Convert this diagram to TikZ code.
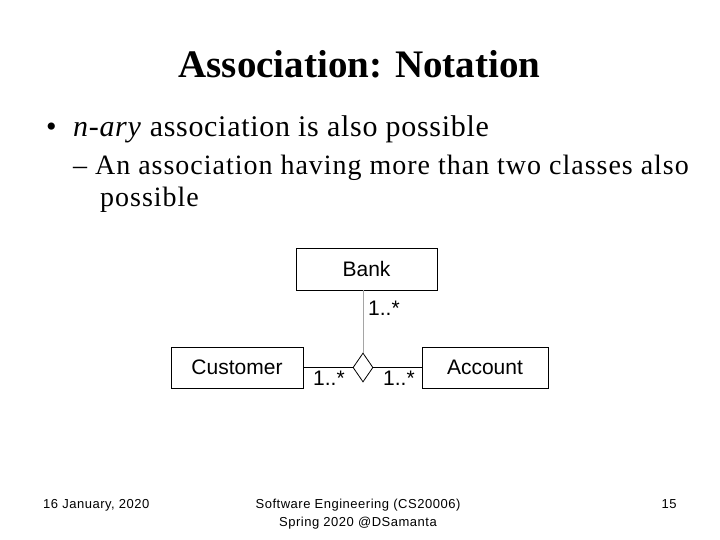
\documentclass[tikz,border=0pt]{standalone}
\usepackage{fontspec}
\setmainfont{Liberation Serif}
\newfontfamily\arialf{Liberation Sans}
\usetikzlibrary{shapes.geometric}
\tikzset{
  cls/.style={draw, line width=0.8pt, inner sep=0pt, font=\arialf\fontsize{21}{23}\selectfont},
  mult/.style={inner sep=0pt, font=\arialf\fontsize{21}{23}\selectfont},
  assoc/.style={line width=0.8pt},
  foot/.style={inner sep=0pt, font=\arialf\fontsize{13}{18}\selectfont\addfontfeatures{LetterSpace=4}, align=center},
  lvlone/.style={inner sep=0pt, anchor=base west, font=\fontsize{30}{34}\selectfont\addfontfeatures{LetterSpace=2.3}},
  lvltwo/.style={inner sep=0pt, anchor=base west, font=\fontsize{28}{32}\selectfont\addfontfeatures{LetterSpace=3.5}},
}
\begin{document}
\begin{tikzpicture}[x=1pt,y=-1pt]
\useasboundingbox[fill=white] (0,0) rectangle (720,540);
% title and text
\node[inner sep=0pt, anchor=base, font=\bfseries\fontsize{39}{43}\selectfont] (title) at (359.5,78) {Association: Notation};
\node[lvlone] (b1) at (46,137) {\textbullet};
\node[lvlone] (t1) at (73,137) {\textit{n-ary} association is also possible};
\node[lvltwo] (t2) at (73,175) {– An association having more than two classes also};
\node[lvltwo] (t3) at (100,207) {possible};
% diagram
\node[cls, minimum width=141pt, minimum height=42pt] (bank) at (366.5,269) {Bank};
\node[cls, minimum width=132pt, minimum height=41pt] (cust) at (237,367.5) {Customer};
\node[cls, minimum width=126pt, minimum height=41pt] (acct) at (485,367.5) {Account};
\node[draw, diamond, line width=0.8pt, inner sep=0pt, minimum width=20pt, minimum height=29pt] (dia) at (363,367.5) {};
\draw[assoc, draw={rgb,255:red,165;green,165;blue,165}] (bank.south -| dia.north) -- (dia.north);
\draw[assoc] (cust.east) -- (dia.west);
\draw[assoc] (dia.east) -- (acct.west);
\node[mult, anchor=west] (m1) at (368,308) {1..*};
\node[mult, anchor=west] (m2) at (313,378) {1..*};
\node[mult, anchor=west] (m3) at (383,378) {1..*};
% footer
\node[foot, anchor=base west] (date) at (43,508) {16 January, 2020};
\node[foot, anchor=base] (course) at (358,508) {Software Engineering (CS20006)};
\node[foot, anchor=base] (course2) at (358,526) {Spring 2020 @DSamanta};
\node[foot, anchor=base] (page) at (669,508) {15};
\end{tikzpicture}
\end{document}
